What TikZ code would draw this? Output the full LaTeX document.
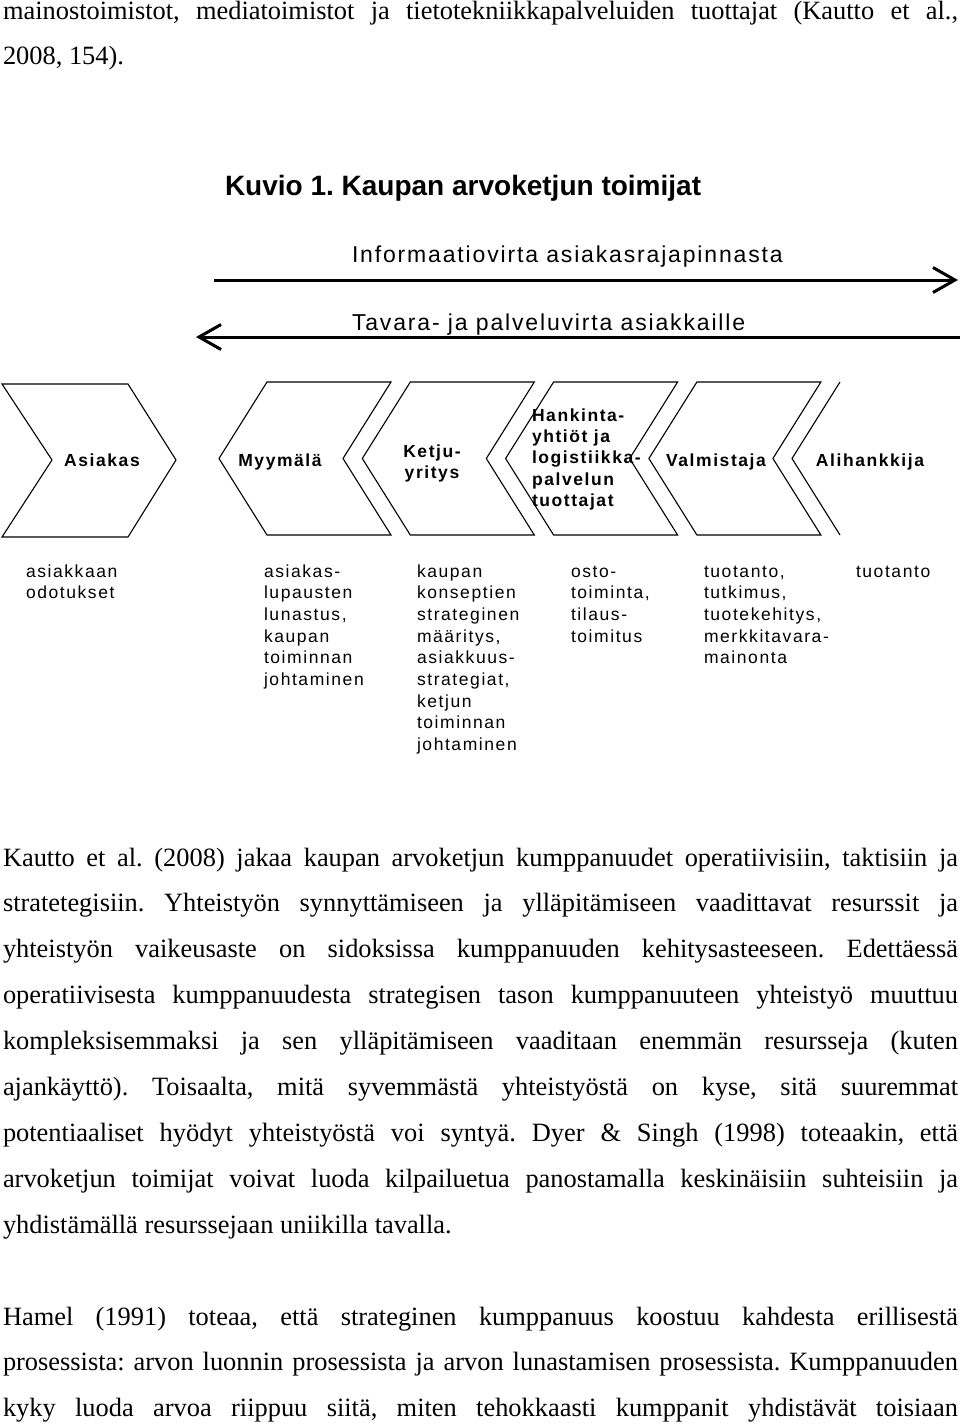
\documentclass[tikz,border=0pt]{standalone}
\usepackage{fontspec}
\setmainfont{Liberation Serif}
\newfontfamily\titlefont{Liberation Sans}
\newfontfamily\lblfont[LetterSpace=9]{Liberation Sans}
\newfontfamily\arrfont[LetterSpace=8]{Liberation Sans}
\usetikzlibrary{arrows.meta}
\frenchspacing
\newcommand\jl[1]{\hbox to 955pt{#1}}
\newcommand\bodyfont{\rmfamily\fontsize{26.4}{45.9}\selectfont\frenchspacing}
\newcommand\boxfont{\lblfont\bfseries\fontsize{17.5}{21.2}\selectfont}
\newcommand\descfont{\lblfont\fontsize{17.5}{21.7}\selectfont}
\begin{document}
\begin{tikzpicture}[x=1pt,y=-1pt,
  chev/.style={draw, line width=1.1pt, line join=miter},
  flow/.style={line width=3pt, -{Straight Barb[length=22pt,width=25pt]}},
  plain/.style={inner sep=0pt, outer sep=0pt},
  boxlbl/.style={plain, font=\boxfont},
  desc/.style={plain, font=\descfont, anchor=base west},
  arrlbl/.style={plain, font=\arrfont\fontsize{23}{28}\selectfont, anchor=base west},
  body/.style={plain, anchor=base west}]
\useasboundingbox (0,0) rectangle (960,1427);
\fill[white] (0,0) rectangle (960,1427);

% top paragraph end
\node[body] (p0) at (3,19) {\vtop{\bodyfont
  \jl{mainostoimistot, mediatoimistot ja tietotekniikkapalveluiden tuottajat (Kautto et al.,}
  \hbox{2008, 154).}}};

% title
\node[plain, anchor=base west, font=\titlefont\bfseries\fontsize{28}{34}\selectfont] (title) at (225,195) {Kuvio 1. Kaupan arvoketjun toimijat};

% flow arrows
\node[arrlbl] (infolbl) at (352,262) {Informaatiovirta asiakasrajapinnasta};
\coordinate (i1) at (214,280);
\coordinate (i2) at (958,280);
\draw[flow] (i1) -- (i2);
\node[arrlbl] (tavlbl) at (352,330) {Tavara- ja palveluvirta asiakkaille};
\coordinate (t1) at (960,337);
\coordinate (t2) at (196,337);
\draw[flow] (t1) -- (t2);

% chevrons
\draw[chev] (2,384) -- (128,384) -- (176,460) -- (128,537) -- (2,537) -- (52,460) -- cycle;
\foreach \i in {0,...,3}{
  \pgfmathsetmacro\p{219+143.3*\i}
  \draw[chev] (\p,458.5) -- (\p+48,382) -- (\p+172,382) -- (\p+124,458.5) -- (\p+172,535) -- (\p+48,535) -- cycle;
}
\draw[chev] (840,382) -- (792,458.5) -- (840,535);

% chevron labels
\node[boxlbl, anchor=base] (asiakas) at (102,466) {Asiakas};
\node[boxlbl, anchor=base] (myymala) at (280,466) {Myymälä};
\node[boxlbl, anchor=base] (ketju) at (432,457) {\vtop{\boxfont\halign{\hfil#\hfil\cr Ketju-\cr yritys\cr}}};
\node[boxlbl, anchor=base west] (hankinta) at (532,421.5) {\vtop{\boxfont
  \hbox{Hankinta-}\hbox{yhtiöt ja}\hbox{logistiikka-}\hbox{palvelun}\hbox{tuottajat}}};
\node[boxlbl, anchor=base] (valmistaja) at (716,466) {Valmistaja};
\node[boxlbl, anchor=base] (alihankkija) at (870,466) {Alihankkija};

% descriptions
\node[desc] (d1) at (26,577) {\vtop{\descfont\hbox{asiakkaan}\hbox{odotukset}}};
\node[desc] (d2) at (264,577) {\vtop{\descfont\hbox{asiakas-}\hbox{lupausten}\hbox{lunastus,}\hbox{kaupan}\hbox{toiminnan}\hbox{johtaminen}}};
\node[desc] (d3) at (417,577) {\vtop{\descfont\hbox{kaupan}\hbox{konseptien}\hbox{strateginen}\hbox{määritys,}\hbox{asiakkuus-}\hbox{strategiat,}\hbox{ketjun}\hbox{toiminnan}\hbox{johtaminen}}};
\node[desc] (d4) at (571,577) {\vtop{\descfont\hbox{osto-}\hbox{toiminta,}\hbox{tilaus-}\hbox{toimitus}}};
\node[desc] (d5) at (704,577) {\vtop{\descfont\hbox{tuotanto,}\hbox{tutkimus,}\hbox{tuotekehitys,}\hbox{merkkitavara-}\hbox{mainonta}}};
\node[desc] (d6) at (856,577) {\vtop{\descfont\hbox{tuotanto}}};

% body paragraphs
\node[body] (p1) at (3,866) {\vtop{\bodyfont
  \jl{Kautto et al. (2008) jakaa kaupan arvoketjun kumppanuudet operatiivisiin, taktisiin ja}
  \jl{stratetegisiin. Yhteistyön synnyttämiseen ja ylläpitämiseen vaadittavat resurssit ja}
  \jl{yhteistyön vaikeusaste on sidoksissa kumppanuuden kehitysasteeseen. Edettäessä}
  \jl{operatiivisesta kumppanuudesta strategisen tason kumppanuuteen yhteistyö muuttuu}
  \jl{kompleksisemmaksi ja sen ylläpitämiseen vaaditaan enemmän resursseja (kuten}
  \jl{ajankäyttö). Toisaalta, mitä syvemmästä yhteistyöstä on kyse, sitä suuremmat}
  \jl{potentiaaliset hyödyt yhteistyöstä voi syntyä. Dyer \& Singh (1998) toteaakin, että}
  \jl{arvoketjun toimijat voivat luoda kilpailuetua panostamalla keskinäisiin suhteisiin ja}
  \hbox{yhdistämällä resurssejaan uniikilla tavalla.}}};

\node[body] (p2) at (3,1325) {\vtop{\bodyfont
  \jl{Hamel (1991) toteaa, että strateginen kumppanuus koostuu kahdesta erillisestä}
  \jl{prosessista: arvon luonnin prosessista ja arvon lunastamisen prosessista. Kumppanuuden}
  \jl{kyky luoda arvoa riippuu siitä, miten tehokkaasti kumppanit yhdistävät toisiaan}}};
\end{tikzpicture}
\end{document}
